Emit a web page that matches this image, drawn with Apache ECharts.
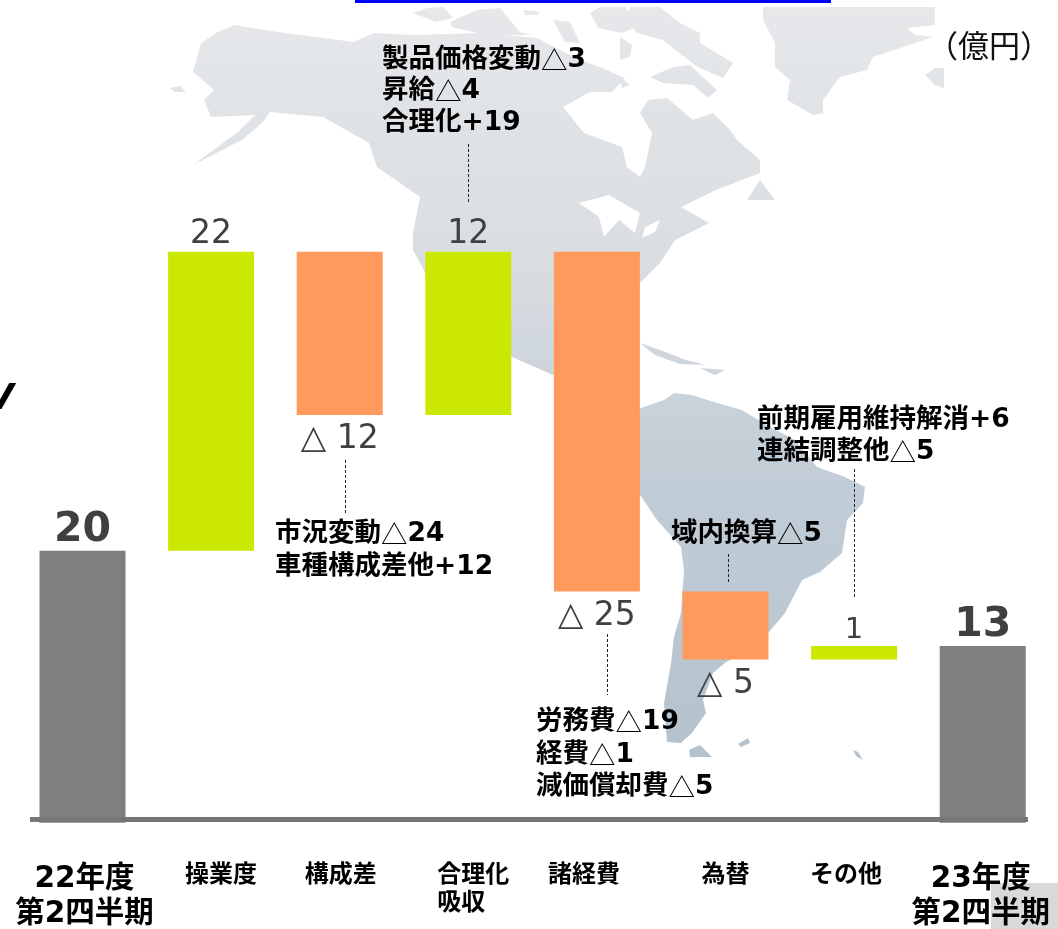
<!DOCTYPE html>
<html><head><meta charset="utf-8">
<style>html,body{margin:0;padding:0;background:#fff}#c{width:1058px;height:929px}</style>
<script src="https://cdn.jsdelivr.net/npm/echarts@6/dist/echarts.min.js"></script>
</head><body><div id="c"></div>
<script>
const categories = ['22年度\n第2四半期','操業度','構成差','合理化\n吸収','諸経費','為替','その他','23年度\n第2四半期'];
const baseValues = [0,20,30,30,17,12,12,0];
const barValues  = [20,22,12,12,25,5,1,13];
const barKinds   = ['total','up','down','up','down','down','up','total'];
const barLabels  = ['20','22','△ 12','12','△ 25','△ 5','1','13'];
const labelShift = [2,10,1,5,-13,0,-8,-2];

const colorOf = {total:'#7f7f7f', up:'#cbe900', down:'#ff9a5c'};
const FONT = '"DejaVu Sans","Noto Sans CJK JP",sans-serif';

const notes = [
  {x:382,y:44,lh:31.5,t:'製品価格変動△3\n昇給△4\n合理化+19'},
  {x:275,y:517,lh:33.5,t:'市況変動△24\n車種構成差他+12'},
  {x:536,y:706,lh:32.5,t:'労務費△19\n経費△1\n減価償却費△5'},
  {x:671,y:518,lh:32,t:'域内換算△5'},
  {x:757,y:404,lh:32,t:'前期雇用維持解消+6\n連結調整他△5'}
];
const leaders = [[468.5,144,204],[345.5,460,514],[607.5,634,695],[728.5,554,584],[854.5,469,598]];

const landGrad = {type:'linear',x:0,y:0,x2:0,y2:760,global:true,colorStops:[{offset:0,color:'#e6e8ea'},{offset:.35,color:'#d9dde1'},{offset:.6,color:'#c3ced7'},{offset:1,color:'#b4c2ce'}]};
const land = [
 // North America mainland
 [[193,72],[201,43],[216,33],[234,25],[278,32],[354,42],[374,33],[415,35],[482,33],[537,38],[580,60],[600,67],[625,78],[612,92],[590,92],[563,107],[584,133],[622,147],[627,167],[640,177],[645,167],[652,133],[640,113],[648,100],[667,98],[693,120],[713,113],[730,130],[737,140],[760,160],[760,173],[716,190],[681,207],[709,223],[675,240],[660,263],[640,283],[630,340],[600,372],[553,375],[512,357],[440,300],[413,250],[413,233],[420,197],[377,167],[369,143],[323,117],[270,112],[262,123],[242,140],[193,165],[238,132],[255,115],[211,117],[204,100],[214,90]],
 [[170,88],[180,86],[186,92],[175,92]],
 // Arctic islands
 [[413,13],[427,8],[443,7],[453,18],[436,22]],
 [[450,22],[477,10],[500,8],[520,32],[530,35],[497,35],[477,33],[452,27]],
 [[523,10],[540,12],[538,15],[525,15]],
 [[553,20],[570,22],[580,43],[565,42]],
 [[590,13],[600,7],[625,7],[640,25],[622,33],[598,28]],
 [[630,7],[660,7],[680,23],[700,33],[700,43],[733,63],[723,78],[700,68],[692,63],[663,40],[637,33],[627,20]],
 [[650,77],[673,67],[690,65],[717,90],[708,98],[693,85],[663,83]],
 [[620,37],[632,45],[630,57],[620,60]],
 [[620,77],[630,85],[622,88]],
 // Greenland
 [[763,7],[935,7],[935,25],[907,28],[915,35],[933,37],[873,57],[867,70],[840,77],[823,100],[823,113],[813,115],[787,100],[790,80],[775,67],[775,43],[763,20]],
 [[925,75],[935,68],[944,68],[944,88],[935,85]],
 // Newfoundland
 [[760,180],[775,200],[747,200]],
 // Caribbean
 [[640,343],[660,350],[686,360],[706,365],[680,364],[655,355]],
 [[700,368],[725,370],[715,375]],
 // South America
 [[641,408],[664,400],[674,393],[692,395],[717,403],[742,410],[770,427],[795,440],[817,467],[845,477],[865,487],[863,503],[847,520],[842,553],[820,572],[802,580],[785,613],[769,632],[750,650],[726,662],[713,673],[703,700],[706,713],[692,733],[681,743],[667,742],[664,703],[671,663],[674,637],[681,613],[684,570],[681,547],[657,520],[630,480],[630,420]],
 [[689,750],[700,745],[712,757],[690,757]],
 [[738,744],[748,738],[750,743],[741,747]],
 [[853,750],[858,752],[863,760],[856,756]]
];
const water = [
 [[579,203],[609,195],[640,213],[635,233],[619,220],[604,237],[599,217]],
 [[645,227],[660,220],[655,232],[642,238]]
];

const graphics = [];
land.forEach(p=>graphics.push({type:'polygon',z:-10,silent:true,shape:{points:p},style:{fill:landGrad}}));
water.forEach(p=>graphics.push({type:'polygon',z:-9,silent:true,shape:{points:p},style:{fill:'#ffffff'}}));
graphics.push({type:'rect',z:-8,silent:true,shape:{x:355,y:0,width:476,height:3},style:{fill:'#0000ff'}});
graphics.push({type:'rect',z:-8,silent:true,shape:{x:991,y:883,width:67,height:46},style:{fill:'#d9d9d9'}});
graphics.push({type:'line',z:5,silent:true,shape:{x1:30,y1:819.5,x2:1028,y2:819.5},style:{stroke:'#767676',lineWidth:5}});
leaders.forEach(l=>graphics.push({type:'line',z:6,silent:true,shape:{x1:l[0],y1:l[1],x2:l[0],y2:l[2]},style:{stroke:'#222',lineWidth:1,lineDash:[3,2]}}));
notes.forEach(n=>graphics.push({type:'text',z:7,silent:true,x:n.x,y:n.y,style:{
  text:n.t.replace(/△/g,'{t|△}'),fill:'#000',font:'bold 26.5px '+FONT,lineHeight:n.lh,textVerticalAlign:'top',
  rich:{t:{fontFamily:'"Noto Sans CJK JP"',fontSize:26.5,fontWeight:'normal',fill:'#000',color:'#000',lineHeight:n.lh}}}}));
graphics.push({type:'text',z:7,silent:true,x:927,y:30,style:{text:'（億円）',fill:'#111',font:'31px "Noto Sans CJK JP"',textVerticalAlign:'top'}});
graphics.push({type:'text',z:7,silent:true,x:-14,y:382,style:{text:'V',fill:'#000',font:'bold italic 36px '+FONT,textVerticalAlign:'top'}});

const rich = {};
categories.forEach((c,i)=>{
  const big = barKinds[i]==='total';
  const s = labelShift[i];
  rich['c'+i] = {fontFamily:FONT,fontWeight:'bold',color:'#000',fontSize:big?29.5:24,lineHeight:big?35:28,
    padding:s>0?[0,0,0,2*s]:[0,-2*s,0,0]};
});
rich.c3b = Object.assign({},rich.c3,{padding:[0,24,0,2*labelShift[3]]});

const option = {
  animation:false,
  graphic:graphics,
  grid:{left:18.2,width:1028.8,top:7,height:816},
  xAxis:{type:'category',data:categories,axisLine:{show:false},axisTick:{show:false},
    axisLabel:{interval:0,margin:39,verticalAlign:'top',
      formatter:(v,i)=> i===3 ? '{c3|合理化}\n{c3b|吸収}' : v.split('\n').map(x=>'{c'+i+'|'+x+'}').join('\n'),
      rich}},
  yAxis:{type:'value',min:0,max:60,show:false,splitLine:{show:false}},
  series:[
    {type:'bar',stack:'w',barWidth:86,itemStyle:{color:'transparent'},silent:true,data:baseValues},
    {type:'bar',stack:'w',barWidth:86,silent:true,
     data:barValues.map((v,i)=>({value:v,itemStyle:{color:colorOf[barKinds[i]]},
       label:{show:true,position:barKinds[i]==='down'?'bottom':'top',
         distance:barKinds[i]==='total'?0:(barKinds[i]==='down'?8:1),
         formatter:barLabels[i],fontFamily:FONT,color:'#404040',
         fontWeight:barKinds[i]==='total'?'bold':'normal',
         fontSize:barKinds[i]==='total'?41:(i===6?29:33)}}))}
  ]
};
echarts.init(document.getElementById('c'),null,{renderer:'canvas'}).setOption(option);
</script></body></html>
